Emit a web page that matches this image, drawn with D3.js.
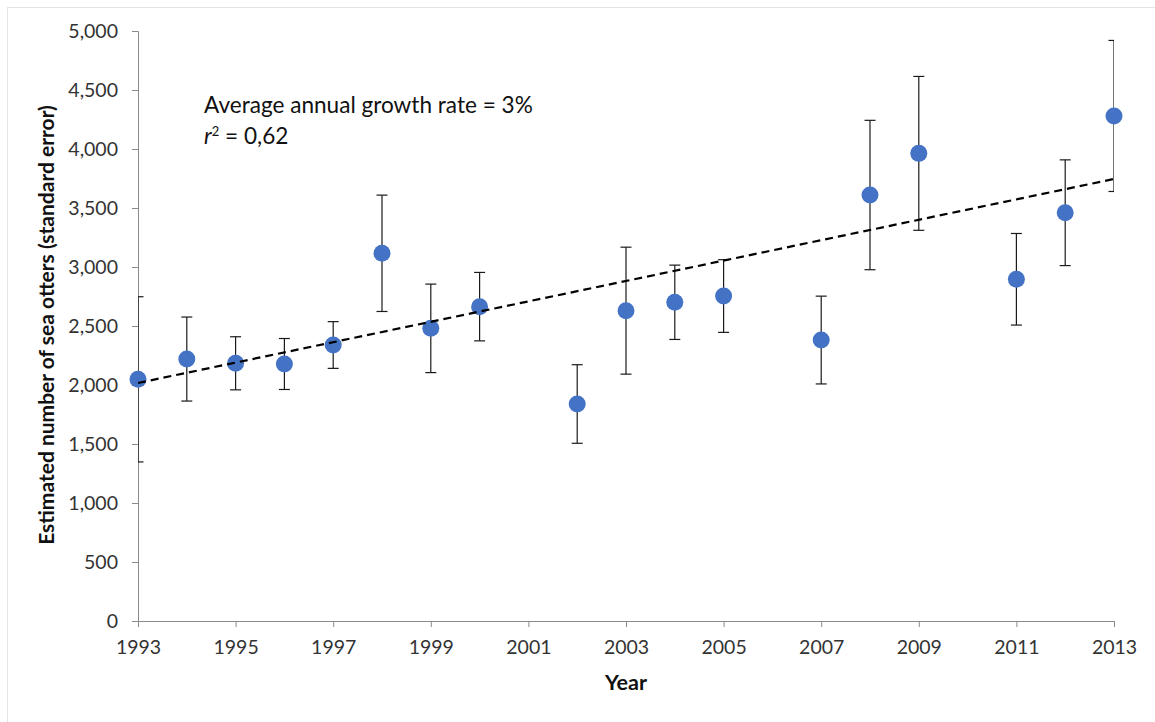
<!DOCTYPE html>
<html><head><meta charset="utf-8">
<script src="https://cdn.jsdelivr.net/npm/d3@7"></script>
<style>body{margin:0;background:#fff}</style></head>
<body>
<svg id="c" width="1155" height="722"></svg>
<script>
// ---- data ----
const years      = [1993,1994,1995,1996,1997,1998,1999,2000,2002,2003,2004,2005,2007,2008,2009,2011,2012,2013];
const estimates  = [2048,2220,2184,2178,2339,3116,2480,2664,1839,2630,2701,2754,2381,3610,3963,2896,3460,4280];
const stdErrors  = [700, 356, 225, 216, 198, 493, 375, 290, 333, 538, 315, 308, 372, 633, 652, 388, 448, 640];
const trendYears  = [1993, 2013];
const trendValues = [2017, 3746];
const xTickYears  = [1993,1995,1997,1999,2001,2003,2005,2007,2009,2011,2013];
const yTickValues = [0,500,1000,1500,2000,2500,3000,3500,4000,4500,5000];
const annotation1 = "Average annual growth rate = 3%";
const xTitle = "Year";
const yTitle = "Estimated number of sea otters (standard error)";

// ---- layout ----
const L = 138, R = 1114, T = 31, B = 621;
const svg = d3.select("#c");
const FONT = "Lato, 'Open Sans', sans-serif";
const TXT = "#333";

// faint frame
svg.append("line").attr("x1",7).attr("x2",1155).attr("y1",7.5).attr("y2",7.5).attr("stroke","#e4e4e4");
svg.append("line").attr("x1",7.5).attr("x2",7.5).attr("y1",7).attr("y2",722).attr("stroke","#e4e4e4");

const x = d3.scaleLinear().domain([1993, 2013]).range([L, R]);
const y = d3.scaleLinear().domain([0, 5000]).range([B, T]);

// axes
const yAxis = d3.axisLeft(y).tickValues(yTickValues).tickFormat(d3.format(",")).tickSize(6).tickPadding(14);
const xAxis = d3.axisBottom(x).tickValues(xTickYears).tickFormat(d3.format("d")).tickSize(6).tickPadding(13);

const gy = svg.append("g").attr("transform", `translate(${L},0)`).call(yAxis);
const gx = svg.append("g").attr("transform", `translate(0,${B})`).call(xAxis);
[gx, gy].forEach(g => {
  g.select(".domain").attr("stroke", "#8a8a8a").attr("stroke-width", 1);
  g.selectAll(".tick line").attr("stroke", "#8a8a8a");
  g.selectAll(".tick text").attr("fill", TXT).style("font-family", FONT).style("font-size", "19.5px");
});

// clip for plot area
svg.append("clipPath").attr("id","plot").append("rect")
  .attr("x", L).attr("y", T - 5).attr("width", R - L).attr("height", B - T + 5);

const plot = svg.append("g").attr("clip-path", "url(#plot)");

const pts = years.map((yr, i) => ({yr, v: estimates[i], se: stdErrors[i]}));

// error bars
const eb = plot.selectAll("g.eb").data(pts).join("g").attr("class","eb")
  .attr("stroke", "#1a1a1a").attr("stroke-width", 1.2);
eb.append("line").attr("x1", d => x(d.yr)).attr("x2", d => x(d.yr))
  .attr("y1", d => y(d.v + d.se)).attr("y2", d => y(d.v - d.se));
eb.append("line").attr("x1", d => x(d.yr) - 5.5).attr("x2", d => x(d.yr) + 5.5)
  .attr("y1", d => y(d.v + d.se)).attr("y2", d => y(d.v + d.se));
eb.append("line").attr("x1", d => x(d.yr) - 5.5).attr("x2", d => x(d.yr) + 5.5)
  .attr("y1", d => y(d.v - d.se)).attr("y2", d => y(d.v - d.se));

// markers
svg.append("g").selectAll("circle").data(pts).join("circle")
  .attr("cx", d => x(d.yr)).attr("cy", d => y(d.v)).attr("r", 8.5)
  .attr("fill", "#4472C4");

// trend line
svg.append("path")
  .datum(trendYears.map((yr, i) => [yr, trendValues[i]]))
  .attr("d", d3.line().x(d => x(d[0])).y(d => y(d[1])))
  .attr("fill", "none").attr("stroke", "#000").attr("stroke-width", 2.2)
  .attr("stroke-dasharray", "8,5");

// fit helper
function fit(sel, w) {
  const len = sel.node().getComputedTextLength();
  const fs = parseFloat(sel.style("font-size"));
  sel.style("font-size", (fs * w / len) + "px");
}

// annotations
const a1 = svg.append("text").attr("x", 204).attr("y", 113).attr("fill", "#111")
  .style("font-family", FONT).style("font-size", "20px").text(annotation1);
fit(a1, 329);
const a2 = svg.append("text").attr("x", 204).attr("y", 144).attr("fill", "#111")
  .style("font-family", FONT).style("font-size", a1.style("font-size"));
a2.append("tspan").style("font-style", "italic").text("r");
a2.append("tspan").attr("dy", -8).style("font-size", "13px").text("2");
a2.append("tspan").attr("dy", 8).text(" = 0,62");

// axis titles
const xt = svg.append("text").attr("x", 626).attr("y", 690).attr("text-anchor", "middle")
  .attr("fill", "#111").style("font-family", FONT).style("font-weight", "bold").style("font-size", "17px").text(xTitle);
fit(xt, 42);
const yt = svg.append("text").attr("transform", "translate(54,325) rotate(-90)").attr("text-anchor", "middle")
  .attr("fill", "#111").style("font-family", FONT).style("font-weight", "bold").style("font-size", "16px").text(yTitle);
fit(yt, 440);
</script>
</body></html>
